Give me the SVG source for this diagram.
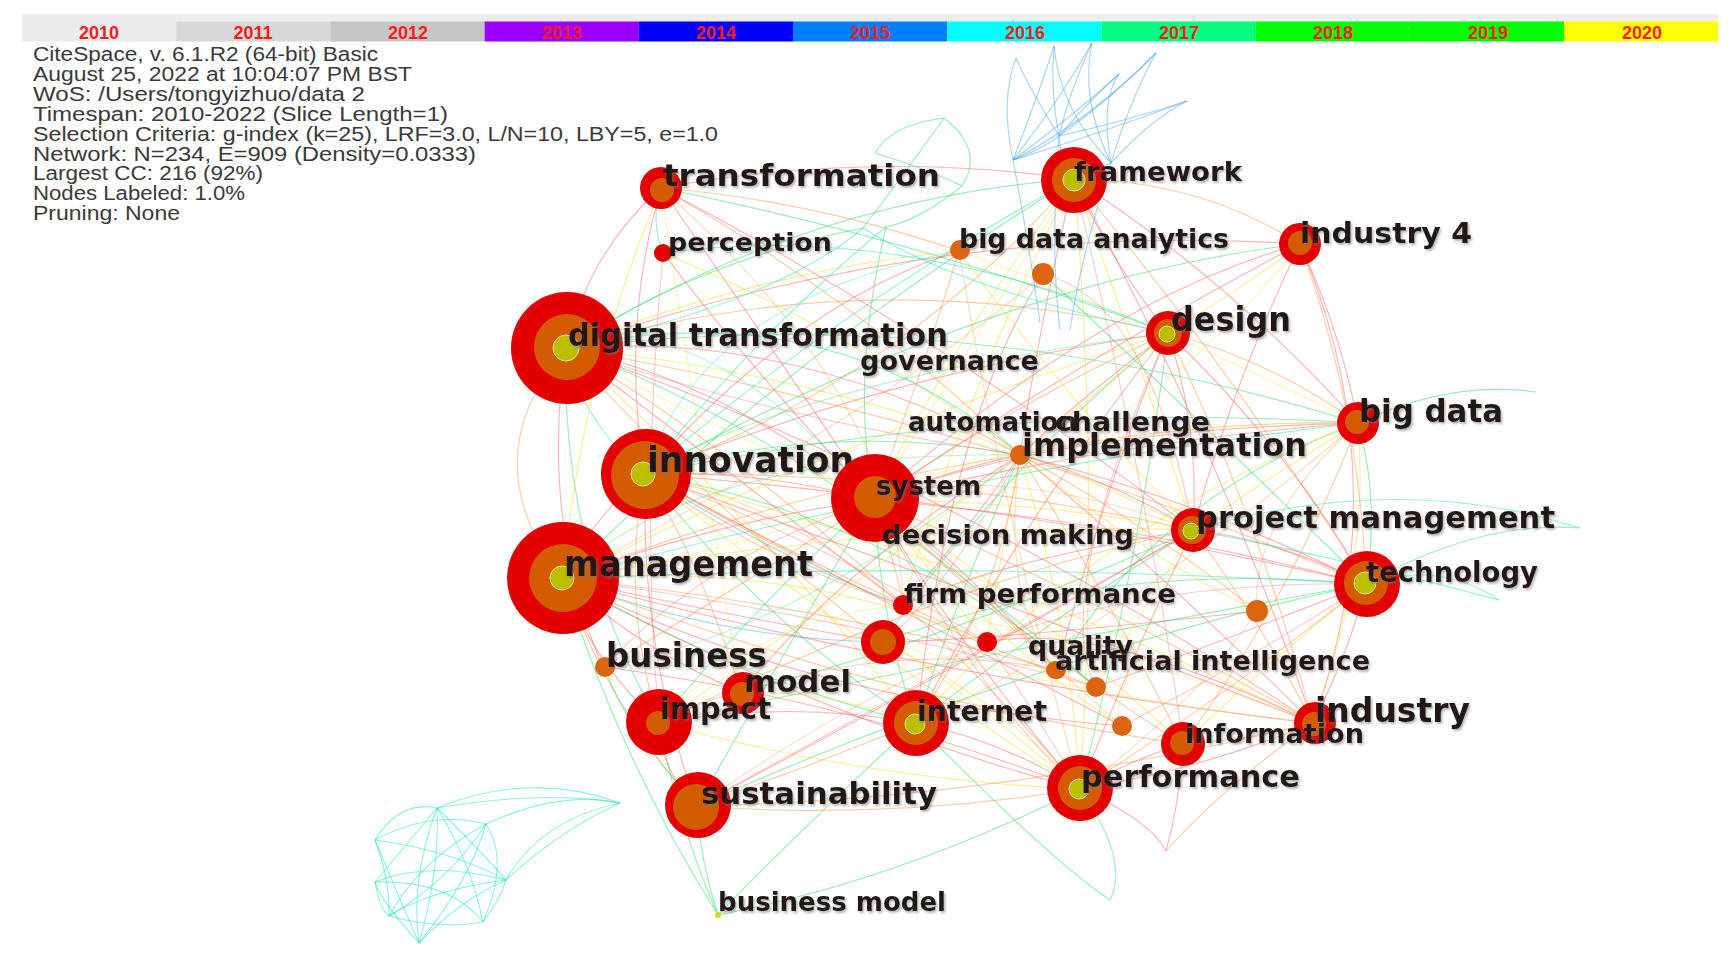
<svg xmlns="http://www.w3.org/2000/svg" width="1733" height="958" viewBox="0 0 1733 958">
<defs>
<filter id="sh" x="-5%" y="-20%" width="110%" height="150%"><feDropShadow dx="1.5" dy="2" stdDeviation="1" flood-color="#777" flood-opacity="0.55"/></filter>
</defs>
<style>
.hd{font-family:"Liberation Sans",Arial,sans-serif;font-size:20px;fill:#3a3a3a}
.yr{font-family:"Liberation Sans",Arial,sans-serif;font-size:18px;font-weight:bold;fill:#ff1a1a;text-anchor:middle}
.lb{font-family:"DejaVu Sans","Liberation Sans",sans-serif;font-weight:bold;fill:#221616;filter:url(#sh)}
#edges path{fill:none;stroke-width:1.1;opacity:.5}
#edges .f{opacity:.35}
.r{stroke:#ff6565}.o{stroke:#ff9848}.y{stroke:#f0e030}.g{stroke:#2ee06a}.c{stroke:#1ee8b6}.b{stroke:#48a8f0}
.R{fill:#e20000}.O{fill:#d45c00}.Y{fill:#bcbe00;stroke:#eee49a;stroke-width:1}.D{fill:#db6510}
</style>
<rect width="1733" height="958" fill="#fff"/>
<g id="timeline">
<rect x="22" y="14" width="1696" height="8" fill="#eeeeee"/>
<rect x="22" y="21.5" width="154.2" height="20" fill="#ebebeb"/>
<rect x="176.2" y="21.5" width="154.2" height="20" fill="#d8d8d8"/>
<rect x="330.4" y="21.5" width="154.2" height="20" fill="#c5c5c5"/>
<rect x="484.6" y="21.5" width="154.2" height="20" fill="#9900ff"/>
<rect x="638.8" y="21.5" width="154.2" height="20" fill="#0000ff"/>
<rect x="793" y="21.5" width="154.2" height="20" fill="#0080ff"/>
<rect x="947.2" y="21.5" width="154.2" height="20" fill="#00ffff"/>
<rect x="1101.4" y="21.5" width="154.2" height="20" fill="#00ff80"/>
<rect x="1255.6" y="21.5" width="154.2" height="20" fill="#00ff00"/>
<rect x="1409.8" y="21.5" width="154.2" height="20" fill="#00ff00"/>
<rect x="1564" y="21.5" width="154" height="20" fill="#ffff00"/>
<text class="yr" x="99" y="39">2010</text>
<text class="yr" x="253" y="39">2011</text>
<text class="yr" x="408" y="39">2012</text>
<text class="yr" x="562" y="39">2013</text>
<text class="yr" x="716" y="39">2014</text>
<text class="yr" x="870" y="39">2015</text>
<text class="yr" x="1025" y="39">2016</text>
<text class="yr" x="1179" y="39">2017</text>
<text class="yr" x="1333" y="39">2018</text>
<text class="yr" x="1488" y="39">2019</text>
<text class="yr" x="1642" y="39">2020</text>
</g>
<g id="header">
<text class="hd" x="33" y="61" textLength="345" lengthAdjust="spacingAndGlyphs">CiteSpace, v. 6.1.R2 (64-bit) Basic</text>
<text class="hd" x="33" y="81" textLength="379" lengthAdjust="spacingAndGlyphs">August 25, 2022 at 10:04:07 PM BST</text>
<text class="hd" x="33" y="101" textLength="332" lengthAdjust="spacingAndGlyphs">WoS: /Users/tongyizhuo/data 2</text>
<text class="hd" x="33" y="121" textLength="415" lengthAdjust="spacingAndGlyphs">Timespan: 2010-2022 (Slice Length=1)</text>
<text class="hd" x="33" y="141" textLength="685" lengthAdjust="spacingAndGlyphs">Selection Criteria: g-index (k=25), LRF=3.0, L/N=10, LBY=5, e=1.0</text>
<text class="hd" x="33" y="161" textLength="443" lengthAdjust="spacingAndGlyphs">Network: N=234, E=909 (Density=0.0333)</text>
<text class="hd" x="33" y="180" textLength="230" lengthAdjust="spacingAndGlyphs">Largest CC: 216 (92%)</text>
<text class="hd" x="33" y="200" textLength="212" lengthAdjust="spacingAndGlyphs">Nodes Labeled: 1.0%</text>
<text class="hd" x="33" y="220" textLength="147" lengthAdjust="spacingAndGlyphs">Pruning: None</text>
</g>
<g id="edges">
<path class="r" d="M566 348Q720 380 874 500"/>
<path class="r" d="M566 348Q800 330 1020 455"/>
<path class="o" d="M566 348Q870 260 1168 333"/>
<path class="g" d="M566 348Q800 200 1074 179"/>
<path class="y" d="M566 348Q900 380 1193 530"/>
<path class="o" d="M566 348Q470 460 563 579"/>
<path class="c" d="M566 348Q580 420 645 474"/>
<path class="r" d="M566 348Q590 250 661 188"/>
<path class="o" d="M566 348Q850 520 1080 789"/>
<path class="y" d="M566 348Q760 520 916 723"/>
<path class="g" d="M566 348Q960 300 1358 423"/>
<path class="r" d="M566 348Q950 480 1313 723"/>
<path class="r" d="M566 348Q540 520 603 668"/>
<path class="g" d="M566 348Q560 550 659 723"/>
<path class="r" d="M566 348Q930 220 1300 244"/>
<path class="o" d="M566 348Q980 420 1366 584"/>
<path class="y" d="M566 348Q760 270 959 251"/>
<path class="r" d="M645 474Q760 470 874 500"/>
<path class="g" d="M645 474Q830 420 1020 455"/>
<path class="o" d="M645 474Q920 470 1193 530"/>
<path class="r" d="M645 474Q590 520 563 579"/>
<path class="y" d="M645 474Q850 640 1080 789"/>
<path class="c" d="M645 474Q850 300 1074 179"/>
<path class="r" d="M645 474Q1000 500 1366 584"/>
<path class="g" d="M645 474Q760 620 916 723"/>
<path class="o" d="M645 474Q620 600 659 723"/>
<path class="r" d="M645 474Q900 370 1168 333"/>
<path class="y" d="M645 474Q980 560 1313 723"/>
<path class="b" d="M645 474Q780 560 903 605"/>
<path class="r" d="M645 474Q640 650 697 806"/>
<path class="g" d="M645 474Q1000 400 1358 423"/>
<path class="r" d="M563 579Q720 520 874 500"/>
<path class="o" d="M563 579Q790 490 1020 455"/>
<path class="y" d="M563 579Q880 520 1193 530"/>
<path class="g" d="M563 579Q740 680 916 723"/>
<path class="r" d="M563 579Q820 720 1080 789"/>
<path class="c" d="M563 579Q960 560 1366 584"/>
<path class="r" d="M563 579Q590 660 659 723"/>
<path class="o" d="M563 579Q610 710 697 806"/>
<path class="y" d="M563 579Q860 430 1168 333"/>
<path class="g" d="M563 579Q780 360 1074 179"/>
<path class="r" d="M563 579Q940 680 1313 723"/>
<path class="b" d="M563 579Q720 640 883 642"/>
<path class="g" d="M563 579Q620 760 718 915"/>
<path class="r" d="M563 579Q640 650 741 692"/>
<path class="o" d="M563 579Q880 700 1183 744"/>
<path class="c" d="M563 579Q960 470 1358 423"/>
<path class="r" d="M874 500Q950 470 1020 455"/>
<path class="o" d="M874 500Q1020 400 1168 333"/>
<path class="y" d="M874 500Q1030 500 1193 530"/>
<path class="r" d="M874 500Q960 650 1080 789"/>
<path class="g" d="M874 500Q880 620 916 723"/>
<path class="r" d="M874 500Q1120 520 1366 584"/>
<path class="y" d="M874 500Q960 330 1074 179"/>
<path class="o" d="M874 500Q1100 600 1313 723"/>
<path class="r" d="M874 500Q1120 440 1358 423"/>
<path class="c" d="M874 500Q760 600 659 723"/>
<path class="r" d="M874 500Q1080 360 1300 244"/>
<path class="g" d="M874 500Q780 660 697 806"/>
<path class="y" d="M874 500Q1040 610 1183 744"/>
<path class="r" d="M1074 179Q1110 260 1168 333"/>
<path class="o" d="M1074 179Q1200 180 1300 244"/>
<path class="r" d="M1074 179Q1040 320 1020 455"/>
<path class="y" d="M1074 179Q1140 360 1193 530"/>
<path class="r" d="M1074 179Q1230 280 1358 423"/>
<path class="o" d="M1074 179Q1240 380 1366 584"/>
<path class="y" d="M1074 179Q1100 480 1080 789"/>
<path class="r" d="M1074 179Q870 150 661 188"/>
<path class="r" d="M1074 179Q1220 450 1313 723"/>
<path class="r" d="M661 188Q760 330 874 500"/>
<path class="o" d="M661 188Q860 300 1020 455"/>
<path class="r" d="M661 188Q620 330 645 474"/>
<path class="y" d="M661 188Q580 380 563 579"/>
<path class="g" d="M661 188Q920 240 1168 333"/>
<path class="r" d="M661 188Q950 340 1193 530"/>
<path class="o" d="M661 188Q810 200 959 251"/>
<path class="c" d="M661 188Q650 220 663 253"/>
<path class="r" d="M1168 333Q1090 390 1020 455"/>
<path class="o" d="M1168 333Q1270 360 1358 423"/>
<path class="r" d="M1168 333Q1200 430 1193 530"/>
<path class="y" d="M1168 333Q1240 290 1300 244"/>
<path class="r" d="M1168 333Q1290 450 1366 584"/>
<path class="g" d="M1168 333Q1140 560 1080 789"/>
<path class="o" d="M1168 333Q1260 520 1313 723"/>
<path class="r" d="M1168 333Q1020 520 916 723"/>
<path class="r" d="M1020 455Q1110 480 1193 530"/>
<path class="o" d="M1020 455Q1190 420 1358 423"/>
<path class="r" d="M1020 455Q1200 500 1366 584"/>
<path class="y" d="M1020 455Q1070 620 1080 789"/>
<path class="r" d="M1020 455Q1170 580 1313 723"/>
<path class="g" d="M1020 455Q960 590 916 723"/>
<path class="o" d="M1020 455Q1110 600 1183 744"/>
<path class="r" d="M1193 530Q1280 540 1366 584"/>
<path class="o" d="M1193 530Q1260 620 1313 723"/>
<path class="r" d="M1193 530Q1130 660 1080 789"/>
<path class="y" d="M1193 530Q1280 470 1358 423"/>
<path class="g" d="M1193 530Q1050 620 916 723"/>
<path class="r" d="M1366 584Q1350 650 1313 723"/>
<path class="o" d="M1366 584Q1220 700 1080 789"/>
<path class="g" d="M1366 584Q1380 500 1358 423"/>
<path class="y" d="M1366 584Q1270 660 1183 744"/>
<path class="r" d="M1313 723Q1200 770 1080 789"/>
<path class="o" d="M1313 723Q1250 740 1183 744"/>
<path class="r" d="M1313 723Q1400 480 1300 244"/>
<path class="y" d="M1313 723Q1370 570 1358 423"/>
<path class="r" d="M1080 789Q1000 740 916 723"/>
<path class="o" d="M1080 789Q890 820 697 806"/>
<path class="y" d="M1080 789Q870 780 659 723"/>
<path class="r" d="M1080 789Q1130 760 1183 744"/>
<path class="g" d="M1080 789Q900 880 718 915"/>
<path class="r" d="M916 723Q790 700 659 723"/>
<path class="o" d="M916 723Q800 770 697 806"/>
<path class="y" d="M916 723Q830 690 741 692"/>
<path class="g" d="M916 723Q800 830 718 915"/>
<path class="r" d="M659 723Q660 770 697 806"/>
<path class="o" d="M659 723Q700 700 741 692"/>
<path class="g" d="M659 723Q680 830 718 915"/>
<path class="g" d="M697 806Q700 860 718 915"/>
<path class="o" d="M697 806Q1000 800 1313 723"/>
<path class="r" d="M1358 423Q1340 330 1300 244"/>
<path class="o" d="M1358 423Q1290 600 1183 744"/>
<path class="r" d="M1300 244Q1230 390 1193 530"/>
<path class="o" d="M1300 244Q1360 410 1366 584"/>
<path class="r" d="M903 605Q1000 560 1193 530"/>
<path class="o" d="M903 605Q760 560 645 474"/>
<path class="y" d="M883 642Q1000 700 1080 789"/>
<path class="r" d="M883 642Q750 620 563 579"/>
<path class="g" d="M883 642Q1100 560 1366 584"/>
<path class="r" d="M987 642Q1100 620 1313 723"/>
<path class="o" d="M987 642Q800 560 645 474"/>
<path class="y" d="M1257 611Q1150 560 1020 455"/>
<path class="r" d="M1257 611Q1000 640 883 642"/>
<path class="o" d="M1096 687Q900 620 645 474"/>
<path class="r" d="M1096 687Q1200 650 1366 584"/>
<path class="y" d="M1122 726Q1000 650 874 500"/>
<path class="r" d="M1122 726Q800 700 563 579"/>
<path class="o" d="M1057 670Q950 560 874 500"/>
<path class="g" d="M1057 670Q1150 500 1358 423"/>
<path class="r" d="M959 251Q800 300 645 474"/>
<path class="y" d="M959 251Q1050 380 1193 530"/>
<path class="o" d="M959 251Q920 380 874 500"/>
<path class="r" d="M1043 274Q950 420 916 723"/>
<path class="g" d="M1043 274Q1200 420 1366 584"/>
<path class="r" d="M663 253Q760 380 874 500"/>
<path class="y" d="M663 253Q850 330 1020 455"/>
<path class="o" d="M605 667Q750 580 874 500"/>
<path class="r" d="M605 667Q850 700 1080 789"/>
<path class="g" d="M605 667Q620 720 697 806"/>
<path class="r" d="M874 500Q960 560 1057 670"/>
<path class="o" d="M874 500Q900 580 903 605"/>
<path class="y" d="M874 500Q930 570 987 642"/>
<path class="g" d="M645 474Q900 520 1096 687"/>
<path class="r" d="M645 474Q880 600 1122 726"/>
<path class="o" d="M563 579Q800 600 1057 670"/>
<path class="y" d="M563 579Q800 560 987 642"/>
<path class="r" d="M566 348Q740 480 903 605"/>
<path class="g" d="M566 348Q800 430 1096 687"/>
<path class="o" d="M566 348Q700 500 883 642"/>
<path class="r" d="M1020 455Q960 540 903 605"/>
<path class="y" d="M1020 455Q1000 560 987 642"/>
<path class="o" d="M1020 455Q1140 520 1257 611"/>
<path class="g" d="M1168 333Q1000 470 883 642"/>
<path class="r" d="M1168 333Q1100 500 1057 670"/>
<path class="y" d="M1074 179Q960 400 903 605"/>
<path class="o" d="M1074 179Q900 380 645 474"/>
<path class="r" d="M1300 244Q1100 300 874 500"/>
<path class="g" d="M1300 244Q1000 280 645 474"/>
<path class="y" d="M1358 423Q1100 520 916 723"/>
<path class="r" d="M1358 423Q1050 430 874 500"/>
<path class="o" d="M1193 530Q950 580 659 723"/>
<path class="g" d="M1366 584Q1000 650 659 723"/>
<path class="r" d="M1313 723Q1000 600 645 474"/>
<path class="y" d="M1080 789Q900 640 883 642"/>
<path class="o" d="M916 723Q1000 600 1020 455"/>
<path class="r" d="M697 806Q900 700 1193 530"/>
<path class="g" d="M697 806Q1050 650 1366 584"/>
<path class="y" d="M659 723Q900 560 1168 333"/>
<path class="r" d="M741 692Q850 560 1020 455"/>
<path class="o" d="M741 692Q700 560 645 474"/>
<path class="g" d="M741 692Q950 640 1193 530"/>
<path class="r f" d="M566 348Q780 420 1020 455"/>
<path class="y f" d="M566 348Q700 420 874 500"/>
<path class="o f" d="M645 474Q780 500 903 605"/>
<path class="r f" d="M645 474Q820 540 987 642"/>
<path class="y f" d="M563 579Q700 560 874 500"/>
<path class="r f" d="M563 579Q820 610 1096 687"/>
<path class="o f" d="M874 500Q1000 460 1193 530"/>
<path class="y f" d="M874 500Q1000 430 1358 423"/>
<path class="r f" d="M874 500Q1030 650 1183 744"/>
<path class="o f" d="M874 500Q990 610 1122 726"/>
<path class="y f" d="M1020 455Q1150 430 1300 244"/>
<path class="r f" d="M1020 455Q940 600 883 642"/>
<path class="o f" d="M1020 455Q1000 600 1057 670"/>
<path class="r f" d="M1168 333Q1050 600 1096 687"/>
<path class="y f" d="M1074 179Q1000 300 874 500"/>
<path class="r f" d="M1074 179Q1150 500 1183 744"/>
<path class="o f" d="M661 188Q900 400 903 605"/>
<path class="y f" d="M661 188Q700 450 741 692"/>
<path class="r f" d="M663 253Q640 500 659 723"/>
<path class="o f" d="M959 251Q1000 500 1080 789"/>
<path class="y f" d="M959 251Q1150 320 1358 423"/>
<path class="r f" d="M1043 274Q1150 300 1193 530"/>
<path class="o f" d="M1043 274Q900 400 563 579"/>
<path class="r f" d="M1193 530Q1000 640 697 806"/>
<path class="y f" d="M1193 530Q1100 720 1122 726"/>
<path class="r f" d="M1366 584Q1150 580 987 642"/>
<path class="o f" d="M1358 423Q1250 520 1257 611"/>
<path class="y f" d="M1313 723Q1100 700 883 642"/>
<path class="r f" d="M1080 789Q980 700 874 500"/>
<path class="o f" d="M916 723Q1100 640 1358 423"/>
<path class="y f" d="M659 723Q750 620 903 605"/>
<path class="r f" d="M741 692Q900 640 1057 670"/>
<path class="o f" d="M697 806Q850 700 987 642"/>
<path class="g f" d="M605 667Q800 630 1020 455"/>
<path class="r f" d="M605 667Q700 560 874 500"/>
<path class="c f" d="M566 348Q700 300 874 500"/>
<path class="g f" d="M645 474Q800 380 1168 333"/>
<path class="c f" d="M645 474Q700 300 959 251"/>
<path class="g f" d="M563 579Q700 450 1020 455"/>
<path class="y f" d="M903 605Q1100 640 1313 723"/>
<path class="r f" d="M987 642Q1040 720 1080 789"/>
<path class="o f" d="M1257 611Q1200 700 1080 789"/>
<path class="r f" d="M1122 726Q1250 660 1366 584"/>
<path class="y f" d="M1096 687Q1150 600 1193 530"/>
<path class="g" d="M1366 584Q1480 520 1580 528"/>
<path class="c" d="M1193 530Q1400 470 1580 528"/>
<path class="g" d="M1358 423Q1450 380 1536 392"/>
<path class="c" d="M1366 584Q1440 560 1499 600"/>
<path class="c" d="M1193 530Q1350 560 1499 600"/>
<path class="r" d="M1080 789Q1150 820 1166 851"/>
<path class="o" d="M1313 723Q1220 790 1166 851"/>
<path class="r" d="M1183 744Q1180 800 1166 851"/>
<path class="g" d="M1080 789Q1130 860 1110 900"/>
<path class="g" d="M916 723Q1050 860 1110 900"/>
<path class="g" d="M944 118Q985 150 962 186"/>
<path class="g" d="M944 118Q890 125 875 153"/>
<path class="g" d="M875 153Q930 170 962 186"/>
<path class="g" d="M944 118Q900 180 863 228"/>
<path class="g" d="M962 186Q920 220 886 227"/>
<path class="g" d="M863 228Q700 260 566 348"/>
<path class="c" d="M886 227Q760 330 645 474"/>
<path class="c" d="M863 228Q960 290 1168 333"/>
<path class="c" d="M663 253Q900 220 1168 333"/>
<path class="c" d="M566 348Q830 290 1020 455"/>
<path class="g" d="M886 227Q850 380 874 500"/>
<path class="c" d="M863 228Q780 300 566 348"/>
<path class="b" d="M1013 160Q1000 100 1016 58"/>
<path class="b" d="M1013 160Q1040 90 1054 46"/>
<path class="b" d="M1013 160Q1060 100 1092 43"/>
<path class="b" d="M1013 160Q1080 110 1119 74"/>
<path class="b" d="M1013 160Q1090 120 1156 53"/>
<path class="b" d="M1013 160Q1110 130 1187 101"/>
<path class="b" d="M1059 136Q1030 90 1016 58"/>
<path class="b" d="M1059 136Q1050 90 1054 46"/>
<path class="b" d="M1059 136Q1070 90 1092 43"/>
<path class="b" d="M1059 136Q1110 100 1156 53"/>
<path class="b" d="M1059 136Q1090 100 1119 74"/>
<path class="b" d="M1059 136Q1130 120 1187 101"/>
<path class="b" d="M1111 163Q1080 100 1092 43"/>
<path class="b" d="M1111 163Q1100 100 1119 74"/>
<path class="b" d="M1111 163Q1130 100 1156 53"/>
<path class="b" d="M1111 163Q1150 120 1187 101"/>
<path class="b" d="M1111 163Q1060 110 1054 46"/>
<path class="b" d="M1013 160Q1040 150 1059 136"/>
<path class="b" d="M1074 180Q1060 160 1059 136"/>
<path class="b" d="M1013 160Q1030 250 1040 323"/>
<path class="b" d="M1059 136Q1050 250 1060 330"/>
<path class="b" d="M1111 163Q1080 260 1070 330"/>
<path class="b" d="M1111 163Q1090 170 1074 180"/>
<path class="c" d="M375 840Q400 800 437 808"/>
<path class="c" d="M375 840Q430 810 486 824"/>
<path class="c" d="M437 808Q530 770 620 803"/>
<path class="c" d="M437 808Q540 790 620 803"/>
<path class="c" d="M486 824Q560 790 620 803"/>
<path class="c" d="M506 880Q540 820 620 803"/>
<path class="c" d="M506 880Q560 830 620 803"/>
<path class="c" d="M375 882Q410 840 437 808"/>
<path class="c" d="M375 882Q430 860 506 880"/>
<path class="c" d="M375 882Q380 910 389 916"/>
<path class="c" d="M389 916Q430 890 506 880"/>
<path class="c" d="M389 916Q440 930 483 922"/>
<path class="c" d="M419 943Q460 900 506 880"/>
<path class="c" d="M419 943Q470 880 486 824"/>
<path class="c" d="M419 943Q440 870 437 808"/>
<path class="c" d="M483 922Q500 900 506 880"/>
<path class="c" d="M483 922Q510 860 486 824"/>
<path class="c" d="M375 840Q390 880 389 916"/>
<path class="c" d="M375 840Q400 900 419 943"/>
<path class="c" d="M375 840Q450 850 506 880"/>
<path class="c" d="M437 808Q470 860 483 922"/>
<path class="c" d="M437 808Q480 850 506 880"/>
<path class="c" d="M486 824Q450 880 389 916"/>
<path class="c" d="M375 882Q450 880 483 922"/>
<path class="c" d="M419 943Q380 900 375 882"/>
<path class="c" d="M437 808Q410 880 419 943"/>
<path class="c" d="M389 916Q420 860 486 824"/>
</g>
<g id="minor-nodes">
<circle class="D" cx="1043" cy="274" r="11"/>
<circle class="D" cx="1257" cy="611" r="11"/>
<circle class="D" cx="1096" cy="687" r="10"/>
<circle class="D" cx="1122" cy="726" r="10"/>
<circle class="D" cx="1057" cy="670" r="9"/>
<circle class="R" cx="987" cy="642" r="10"/>
<circle class="R" cx="883" cy="642" r="22"/><circle class="O" cx="883" cy="642" r="13"/>
<circle cx="718" cy="915" r="3" fill="#d8d820"/>
</g>
<g id="n-transformation"><circle class="R" cx="661" cy="188" r="21"/><circle class="O" cx="662" cy="190" r="12"/><text class="lb" x="663" y="186" font-size="30" textLength="277" lengthAdjust="spacingAndGlyphs">transformation</text></g>
<g id="n-perception"><circle class="R" cx="663" cy="253" r="9"/><text class="lb" x="668" y="251" font-size="24" textLength="164" lengthAdjust="spacingAndGlyphs">perception</text></g>
<g id="n-framework"><circle class="R" cx="1074" cy="180" r="33"/><circle class="O" cx="1074" cy="180" r="22"/><circle class="Y" cx="1074" cy="180" r="11"/><text class="lb" x="1074" y="181" font-size="27" textLength="168" lengthAdjust="spacingAndGlyphs">framework</text></g>
<g id="n-big-data-analytics"><circle class="D" cx="960" cy="250" r="10"/><text class="lb" x="959" y="248" font-size="26" textLength="270" lengthAdjust="spacingAndGlyphs">big data analytics</text></g>
<g id="n-industry-4"><circle class="R" cx="1300" cy="244" r="21"/><circle class="O" cx="1300" cy="243" r="12"/><text class="lb" x="1300" y="243" font-size="28" textLength="172" lengthAdjust="spacingAndGlyphs">industry 4</text></g>
<g id="n-digital-transformation"><circle class="R" cx="567" cy="348" r="56"/><circle class="O" cx="567" cy="347" r="33"/><circle class="Y" cx="566" cy="348" r="13"/><text class="lb" x="568" y="346" font-size="32" textLength="380" lengthAdjust="spacingAndGlyphs">digital transformation</text></g>
<g id="n-governance"><text class="lb" x="860" y="370" font-size="26" textLength="179" lengthAdjust="spacingAndGlyphs">governance</text></g>
<g id="n-design"><circle class="R" cx="1168" cy="333" r="22"/><circle class="O" cx="1168" cy="333" r="14"/><circle class="Y" cx="1167" cy="334" r="8"/><text class="lb" x="1171" y="331" font-size="33" textLength="120" lengthAdjust="spacingAndGlyphs">design</text></g>
<g id="n-big-data"><circle class="R" cx="1358" cy="423" r="21"/><circle class="O" cx="1357" cy="422" r="12"/><text class="lb" x="1359" y="422" font-size="32" textLength="144" lengthAdjust="spacingAndGlyphs">big data</text></g>
<g id="n-automation"><text class="lb" x="908" y="431" font-size="26" textLength="169" lengthAdjust="spacingAndGlyphs">automation</text></g>
<g id="n-challenge"><text class="lb" x="1055" y="431" font-size="26" textLength="155" lengthAdjust="spacingAndGlyphs">challenge</text></g>
<g id="n-implementation"><circle class="D" cx="1020" cy="455" r="10"/><text class="lb" x="1022" y="456" font-size="32" textLength="285" lengthAdjust="spacingAndGlyphs">implementation</text></g>
<g id="n-innovation"><circle class="R" cx="646" cy="474" r="45"/><circle class="O" cx="645" cy="475" r="34"/><circle class="Y" cx="643" cy="474" r="12"/><text class="lb" x="647" y="472" font-size="36" textLength="207" lengthAdjust="spacingAndGlyphs">innovation</text></g>
<g id="n-system"><circle class="R" cx="875" cy="498" r="44"/><circle class="O" cx="875" cy="497" r="21"/><text class="lb" x="876" y="495" font-size="27" textLength="105" lengthAdjust="spacingAndGlyphs">system</text></g>
<g id="n-decision-making"><text class="lb" x="882" y="544" font-size="27" textLength="252" lengthAdjust="spacingAndGlyphs">decision making</text></g>
<g id="n-project-management"><circle class="R" cx="1193" cy="530" r="22"/><circle class="O" cx="1192" cy="530" r="14"/><circle class="Y" cx="1191" cy="531" r="8"/><text class="lb" x="1196" y="528" font-size="31" textLength="359" lengthAdjust="spacingAndGlyphs">project management</text></g>
<g id="n-management"><circle class="R" cx="563" cy="578" r="56"/><circle class="O" cx="563" cy="578" r="34"/><circle class="Y" cx="562" cy="578" r="12"/><text class="lb" x="564" y="576" font-size="36" textLength="249" lengthAdjust="spacingAndGlyphs">management</text></g>
<g id="n-technology"><circle class="R" cx="1367" cy="584" r="33"/><circle class="O" cx="1366" cy="583" r="22"/><circle class="Y" cx="1365" cy="583" r="11"/><text class="lb" x="1366" y="582" font-size="29" textLength="172" lengthAdjust="spacingAndGlyphs">technology</text></g>
<g id="n-firm-performance"><circle class="R" cx="903" cy="605" r="10"/><text class="lb" x="904" y="603" font-size="27" textLength="272" lengthAdjust="spacingAndGlyphs">firm performance</text></g>
<g id="n-business"><circle class="D" cx="605" cy="667" r="10"/><text class="lb" x="606" y="667" font-size="33" textLength="161" lengthAdjust="spacingAndGlyphs">business</text></g>
<g id="n-quality"><circle class="D" cx="1055" cy="670" r="9"/><text class="lb" x="1028" y="655" font-size="27" textLength="105" lengthAdjust="spacingAndGlyphs">quality</text></g>
<g id="n-artificial-intelligence"><text class="lb" x="1055" y="670" font-size="27" textLength="315" lengthAdjust="spacingAndGlyphs">artificial intelligence</text></g>
<g id="n-model"><circle class="R" cx="743" cy="693" r="21"/><circle class="O" cx="742" cy="694" r="12"/><text class="lb" x="744" y="692" font-size="31" textLength="107" lengthAdjust="spacingAndGlyphs">model</text></g>
<g id="n-impact"><circle class="R" cx="659" cy="722" r="33"/><circle class="O" cx="658" cy="723" r="12"/><text class="lb" x="660" y="719" font-size="31" textLength="111" lengthAdjust="spacingAndGlyphs">impact</text></g>
<g id="n-internet"><circle class="R" cx="916" cy="723" r="33"/><circle class="O" cx="916" cy="723" r="22"/><circle class="Y" cx="915" cy="724" r="10"/><text class="lb" x="917" y="721" font-size="29" textLength="130" lengthAdjust="spacingAndGlyphs">internet</text></g>
<g id="n-industry"><circle class="R" cx="1315" cy="723" r="21"/><circle class="O" cx="1314" cy="724" r="12"/><text class="lb" x="1315" y="722" font-size="33" textLength="155" lengthAdjust="spacingAndGlyphs">industry</text></g>
<g id="n-information"><circle class="R" cx="1183" cy="744" r="22"/><circle class="O" cx="1182" cy="743" r="12"/><text class="lb" x="1185" y="743" font-size="27" textLength="179" lengthAdjust="spacingAndGlyphs">information</text></g>
<g id="n-performance"><circle class="R" cx="1080" cy="788" r="33"/><circle class="O" cx="1080" cy="788" r="22"/><circle class="Y" cx="1079" cy="789" r="10"/><text class="lb" x="1081" y="787" font-size="31" textLength="219" lengthAdjust="spacingAndGlyphs">performance</text></g>
<g id="n-sustainability"><circle class="R" cx="698" cy="805" r="33"/><circle class="O" cx="696" cy="807" r="23"/><text class="lb" x="701" y="804" font-size="31" textLength="236" lengthAdjust="spacingAndGlyphs">sustainability</text></g>
<g id="n-business-model"><text class="lb" x="718" y="911" font-size="27" textLength="228" lengthAdjust="spacingAndGlyphs">business model</text></g>
</svg>
